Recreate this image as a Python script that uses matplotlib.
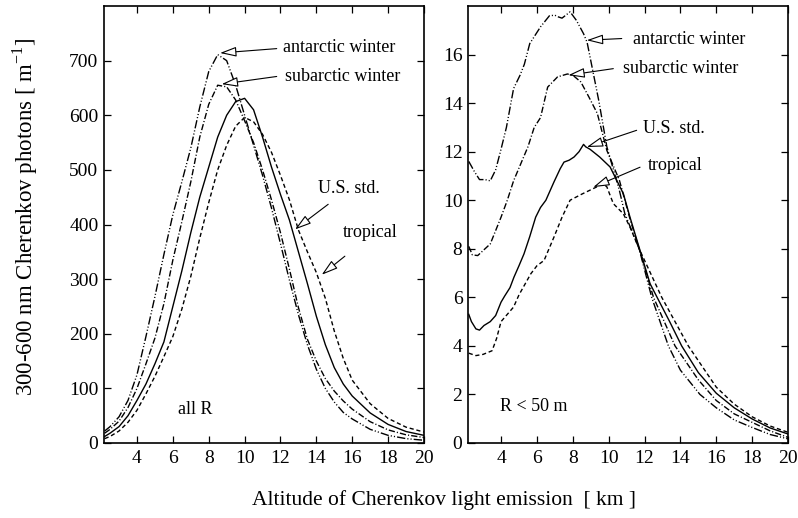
import matplotlib
matplotlib.use("Agg")
import matplotlib.pyplot as plt

plt.rcParams['font.family'] = ['Liberation Serif', 'DejaVu Serif']
plt.rcParams['mathtext.fontset'] = 'custom'
plt.rcParams['mathtext.rm'] = 'Liberation Serif'
plt.rcParams['lines.scale_dashes'] = False

# ---- left panel: all R ----
alt_all = [2.2, 2.5, 3, 3.5, 4, 4.5, 5, 5.5, 6, 6.5, 7, 7.5, 8, 8.5, 9, 9.5, 10,
           10.5, 11, 11.5, 12, 12.5, 13, 13.5, 14, 14.5, 15, 15.5, 16, 17, 18, 19, 20]
antarctic_all = [22, 30, 48, 78, 125, 195, 268, 345, 418, 478, 540, 615, 680, 711, 700, 655, 600,
                 545, 490, 430, 365, 298, 235, 180, 135, 100, 75, 56, 44, 25, 14, 8, 5]
subarctic_all = [18, 25, 40, 65, 100, 145, 192, 255, 335, 405, 478, 560, 620, 655, 652, 628, 590,
                 550, 500, 445, 385, 318, 248, 190, 150, 118, 95, 77, 62, 39, 24, 15, 10]
usstd_all = [12, 18, 30, 50, 78, 108, 145, 185, 250, 315, 385, 450, 505, 560, 600, 625, 631,
             610, 560, 505, 455, 408, 350, 292, 232, 180, 138, 108, 86, 55, 34, 21, 14]
tropical_all = [8, 12, 22, 38, 60, 90, 122, 158, 195, 245, 305, 375, 440, 500, 545, 580, 596,
                588, 565, 532, 490, 445, 390, 350, 312, 265, 205, 155, 115, 72, 45, 29, 20]

# ---- right panel: R < 50 m ----
alt_ant_r = [2.2, 2.5, 2.8, 3.1, 3.4, 3.7, 4.0, 4.3, 4.7, 5.06, 5.3, 5.6, 6.2, 6.7, 7.0, 7.2, 7.4,
             7.85, 8.2, 8.6, 8.8, 9.45, 9.9, 10.6, 10.9, 11.7, 12.4, 13.33, 14.0, 15.09, 16, 17, 18, 19, 20]
antarctic_r = [11.6, 11.2, 10.85, 10.85, 10.8, 11.25, 12.1, 13.0, 14.6, 15.15, 15.6, 16.45, 17.14, 17.6,
               17.62, 17.55, 17.5, 17.76, 17.41, 16.86, 16.5, 14.1, 12.2, 10.4, 9.45, 8.0, 6.0, 4.0,
               3.0, 2.0, 1.45, 0.95, 0.64, 0.35, 0.17]
alt_sub_r = [2.2, 2.4, 2.7, 3.4, 4.0, 4.35, 4.7, 5.1, 5.5, 5.85, 6.2, 6.6, 7.15, 7.7, 8.0, 8.45,
             8.9, 9.37, 9.9, 10.6, 11.2, 11.7, 12.5, 13.7, 15.0, 16, 17, 18, 19, 20]
subarctic_r = [8.1, 7.75, 7.72, 8.2, 9.3, 10.0, 10.8, 11.5, 12.2, 13.0, 13.4, 14.66, 15.08, 15.2, 15.15,
               14.87, 14.25, 13.57, 12.05, 10.82, 9.2, 8.0, 6.0, 4.0, 2.6, 1.75, 1.2, 0.85, 0.5, 0.23]
alt_us_r = [2.2, 2.35, 2.6, 2.8, 3.05, 3.4, 3.7, 4.0, 4.2, 4.5, 4.72, 5.0, 5.28, 5.6, 5.93, 6.2, 6.5,
            6.95, 7.3, 7.51, 7.8, 8.07, 8.35, 8.6, 8.72, 8.96, 9.5, 10.08, 10.45, 10.82, 11.19, 11.75,
            12.31, 13.4, 14.07, 15, 16, 17, 18, 19, 20]
usstd_r = [5.3, 5.0, 4.7, 4.65, 4.84, 5.0, 5.25, 5.8, 6.05, 6.4, 6.83, 7.3, 7.79, 8.5, 9.3, 9.7, 10.0,
           10.75, 11.3, 11.57, 11.65, 11.78, 12.0, 12.3, 12.2, 12.1, 11.78, 11.37, 10.82, 10.27, 9.3, 7.93,
           6.56, 5.0, 4.0, 2.9, 2.05, 1.45, 0.99, 0.62, 0.37]
alt_tr_r = [2.2, 2.6, 3.0, 3.5, 3.75, 4.0, 4.35, 4.7, 5.0, 5.66, 6.0, 6.4, 6.95, 7.4, 7.85, 8.5, 9.06,
            9.7, 9.9, 10.26, 10.82, 11.19, 11.7, 12.96, 14.44, 16, 17, 18, 19, 20]
tropical_r = [3.7, 3.6, 3.65, 3.8, 4.3, 5.0, 5.3, 5.6, 6.1, 6.97, 7.3, 7.52, 8.48, 9.3, 10.0, 10.25, 10.45,
              10.68, 10.55, 9.86, 9.44, 8.89, 8.0, 6.0, 4.0, 2.3, 1.6, 1.08, 0.7, 0.44]

names = ["antarctic winter", "subarctic winter", "U.S. std.", "tropical"]
dash_styles = [(0, (6, 1.5, 0.8, 1.5, 0.8, 1.5)), (0, (4.5, 1.5, 0.8, 1.5)), '-', (0, (3, 2))]

# label text position, arrow tail, arrow tip (data coords)
left_notes = [((12.14, 724), (11.79, 722), (8.63, 714)),
              ((12.25, 671), (11.79, 671), (8.72, 657)),
              ((14.09, 466), (14.66, 437), (12.81, 391)),
              ((15.48, 385), (15.59, 342), (14.30, 308))]
right_notes = [((11.36, 16.62), (10.73, 16.66), (8.78, 16.59)),
               ((10.80, 15.42), (10.26, 15.42), (7.75, 15.15)),
               ((11.92, 12.95), (11.56, 12.88), (8.78, 12.19)),
               ((12.19, 11.43), (11.75, 11.36), (9.14, 10.54))]

fig = plt.figure(figsize=(7.98, 5.18), dpi=100)
ax1 = fig.add_axes([0.1303, 0.1448, 0.4010, 0.8436])
ax2 = fig.add_axes([0.5865, 0.1448, 0.4010, 0.8436])

lw = 1.0
for y, ls in zip([antarctic_all, subarctic_all, usstd_all, tropical_all], dash_styles):
    ax1.plot(alt_all, y, color='black', lw=lw, linestyle=ls)

right_sets = [(alt_ant_r, antarctic_r), (alt_sub_r, subarctic_r), (alt_us_r, usstd_r), (alt_tr_r, tropical_r)]
for (x, y), ls in zip(right_sets, dash_styles):
    ax2.plot(x, y, color='black', lw=lw, linestyle=ls)

arrow_kw = dict(arrowstyle='-|>,head_length=1.0,head_width=0.3', fc='white', ec='black',
                lw=0.8, mutation_scale=10, shrinkA=0, shrinkB=0)
for ax, notes in [(ax1, left_notes), (ax2, right_notes)]:
    for name, (tpos, tail, tip) in zip(names, notes):
        ax.text(tpos[0], tpos[1], name, fontsize=13, ha='left', va='center')
        ax.annotate('', xy=tip, xytext=tail, arrowprops=arrow_kw)

ax1.text(6.29, 62, "all R", fontsize=13, ha='left', va='center')
ax2.text(3.94, 1.5, "R < 50 m", fontsize=13, ha='left', va='center')

ax1.set_xlim(2.16, 20)
ax1.set_ylim(0, 800)
ax1.set_yticks(range(0, 701, 100))
ax2.set_xlim(2.16, 20)
ax2.set_ylim(0, 18)
ax2.set_yticks(range(0, 17, 2))
for ax in (ax1, ax2):
    ax.set_xticks(range(4, 21, 2))
    ax.tick_params(direction='in', top=True, right=True, length=5, width=0.9,
                   labelsize=14, pad=5)
    ax.tick_params(axis='y', pad=4)
    for s in ax.spines.values():
        s.set_linewidth(1.2)

fig.text(0.031, 0.581, r"300-600 nm Cherenkov photons [ m$^{\mathregular{-1}}$]",
         rotation=90, ha='center', va='center', fontsize=16.5)
fig.text(0.557, 0.035, "Altitude of Cherenkov light emission  [ km ]",
         ha='center', va='center', fontsize=15.5)

fig.savefig("out.png", dpi=100)
